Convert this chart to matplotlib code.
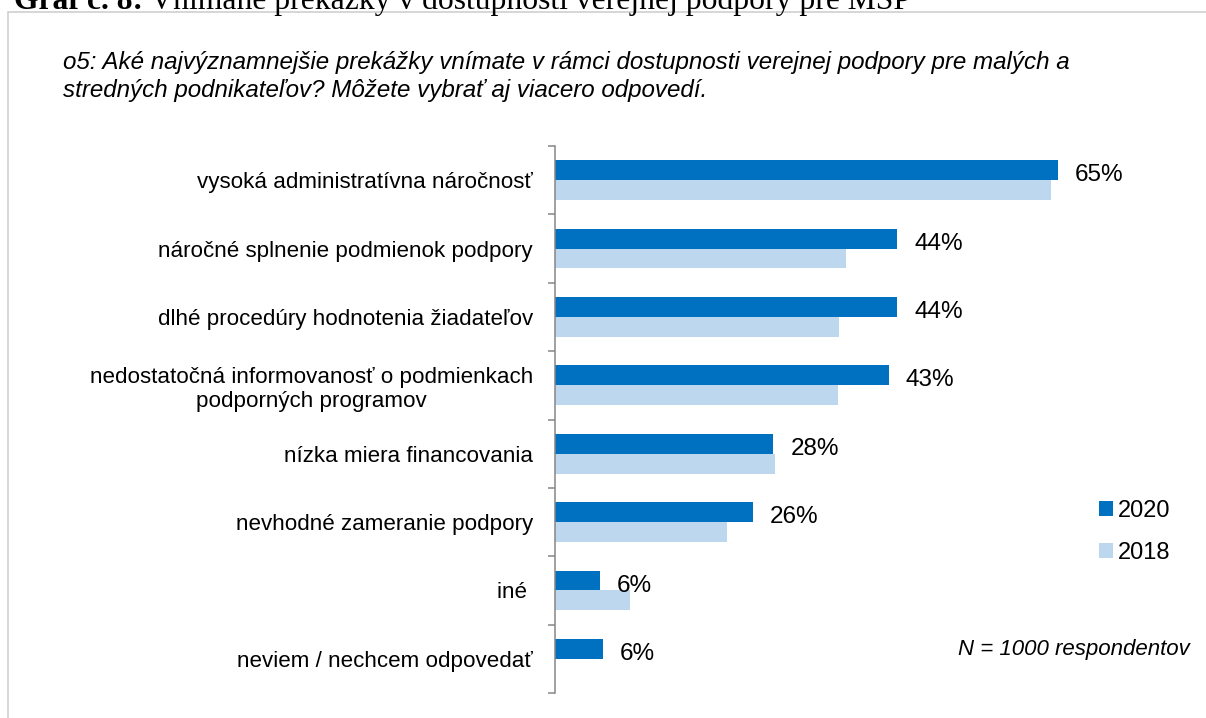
import matplotlib
matplotlib.use("Agg")
import matplotlib.pyplot as plt
from matplotlib.patches import Rectangle
import numpy as np

categories = [
    "vysoká administratívna náročnosť",
    "náročné splnenie podmienok podpory",
    "dlhé procedúry hodnotenia žiadateľov",
    "nedostatočná informovanosť o podmienkach\npodporných programov",
    "nízka miera financovania",
    "nevhodné zameranie podpory",
    "iné ",
    "neviem / nechcem odpovedať",
]
values_2020 = [65.0, 44.2, 44.2, 43.1, 28.2, 25.6, 5.8, 6.2]
values_2018 = [64.1, 37.6, 36.7, 36.6, 28.4, 22.2, 9.7, 0.0]
labels_2020 = ["65%", "44%", "44%", "43%", "28%", "26%", "6%", "6%"]
series_names = ["2020", "2018"]

title_bold = "Graf č. 8:"
title_rest = " Vnímané prekážky v dostupnosti verejnej podpory pre MSP"
subtitle = ("o5: Aké najvýznamnejšie prekážky vnímate v rámci dostupnosti verejnej podpory pre malých a\n"
            "stredných podnikateľov? Môžete vybrať aj viacero odpovedí.")
note = "N = 1000 respondentov"

c2020 = "#0070C0"
c2018 = "#BDD7EE"

W, H = 1206, 718
fig = plt.figure(figsize=(W / 100, H / 100), dpi=100)
plt.rcParams['font.family'] = ['Liberation Sans', 'DejaVu Sans']

# frame
fig.patches.append(Rectangle((8 / W, -0.01), 1.1, 1 - 12 / H + 0.01, transform=fig.transFigure,
                             fill=False, edgecolor="#d0d0d0", linewidth=1.2))

# cut-off title
t = fig.text(14 / W, 1 - 9 / H, title_bold, fontsize=22.8, fontweight="bold",
             family=["Liberation Serif"], va="baseline", ha="left")
fig.canvas.draw()
bb = t.get_window_extent()
fig.text(bb.x1 / W, 1 - 9 / H, title_rest, fontsize=22.8, family=["Liberation Serif"],
         va="baseline", ha="left")

fig.text(63 / W, 1 - 76.5 / H, subtitle, fontsize=17.4, style="italic", va="center", ha="left",
         linespacing=1.24)

ax_left, ax_right = 555, 555 + 75 * 7.74
ax_top, ax_bot = 146, 693
ax = fig.add_axes([ax_left / W, 1 - ax_bot / H, (ax_right - ax_left) / W, (ax_bot - ax_top) / H])

y = np.arange(len(categories))
h = 0.29
ax.barh(y - h / 2, values_2020, height=h, color=c2020, label=series_names[0])
ax.barh(y + h / 2, values_2018, height=h, color=c2018, label=series_names[1])

for yi, v, lab in zip(y, values_2020, labels_2020):
    ax.annotate(lab, (v, yi - h / 2), xytext=(17, -5), textcoords="offset pixels",
                va="center", ha="left", fontsize=17.5)

ax.set_xlim(0, 75)
ax.set_ylim(len(categories) - 0.5, -0.5)
ax.set_yticks(y)
ax.set_yticklabels(categories, fontsize=16.1, multialignment="center")
ax.set_yticks(np.arange(-0.5, len(categories)), minor=True)
ax.tick_params(axis="y", which="major", length=0, pad=16)
ax.tick_params(axis="y", which="minor", length=5, width=1.1, color="#868686")
ax.set_xticks([])
for s in ["top", "right", "bottom"]:
    ax.spines[s].set_visible(False)
ax.spines["left"].set_color("#868686")
ax.spines["left"].set_linewidth(1.1)

leg = fig.legend(loc="center left", bbox_to_anchor=(1099 / W, 1 - 532 / H), frameon=False,
                 fontsize=17, handlelength=0.58, handleheight=0.58, handletextpad=0.22,
                 labelspacing=0.85, borderpad=0, borderaxespad=0)

fig.text(1190 / W, 1 - 650 / H, note, fontsize=16, style="italic", ha="right", va="center")

fig.savefig("out.png", dpi=100)
